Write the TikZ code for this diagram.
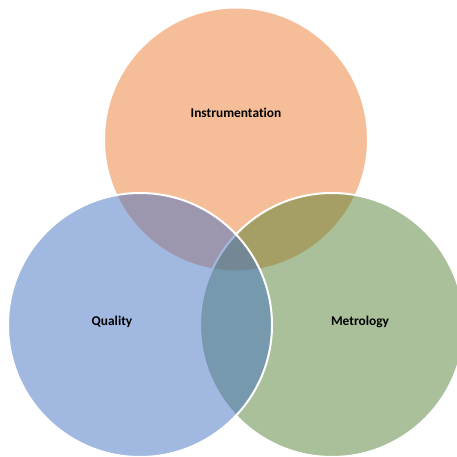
\documentclass[tikz,border=0pt]{standalone}
\usepackage{fontspec}
\setmainfont[Ligatures=NoCommon]{Carlito}
\definecolor{cOrange}{HTML}{ED7D31}
\definecolor{cBlue}{HTML}{4472C4}
\definecolor{cGreen}{HTML}{548235}
\tikzset{
  venn/.style={circle, minimum size=264pt, inner sep=0pt, fill opacity=0.5, draw=white, line width=2pt},
  lbl/.style={font=\bfseries\fontsize{13.4}{16}\selectfont, text=black}
}
\begin{document}
\begin{tikzpicture}[x=1pt,y=-1pt]
\useasboundingbox (0,0) rectangle (457,457);
\node[venn, fill=cOrange] (top) at (236,139.5) {};
\node[venn, fill=cGreen] (right) at (332,325) {};
\node[venn, fill=cBlue] (left) at (140,325) {};
\node[lbl] (tI) at (236,113) {Instrumentation};
\node[lbl] (tQ) at (112,322) {Quality};
\node[lbl] (tM) at (360,322) {Metrology};
\end{tikzpicture}
\end{document}
